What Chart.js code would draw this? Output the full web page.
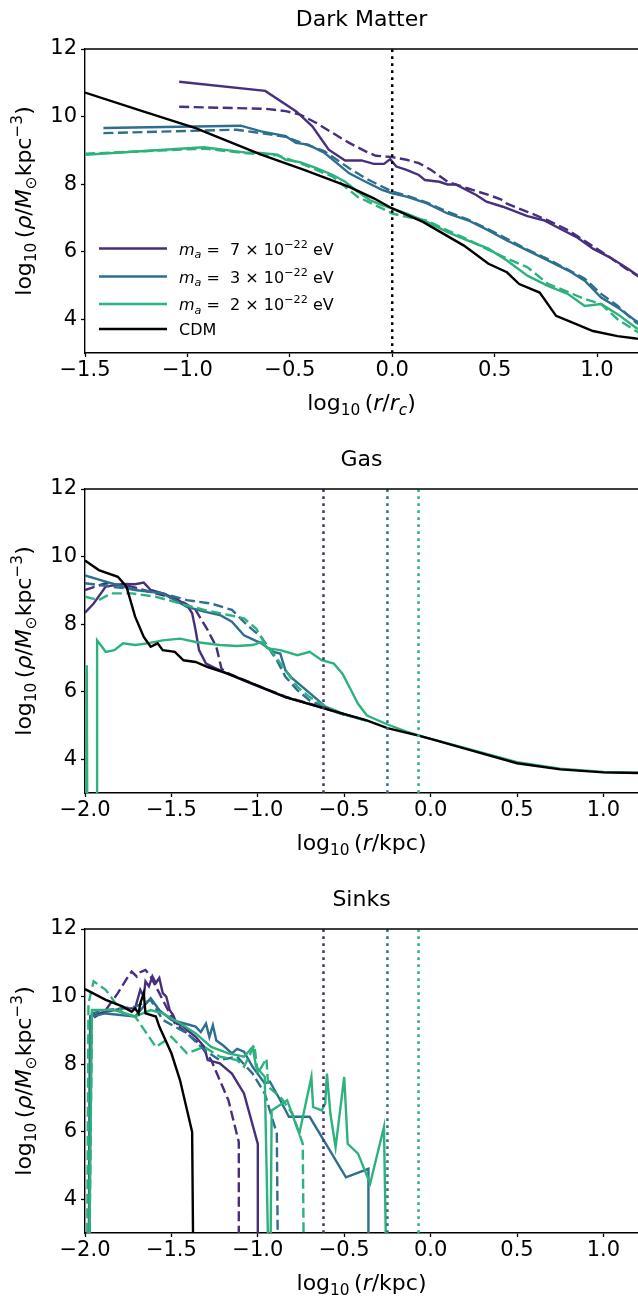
<!DOCTYPE html>
<html>
<head>
<meta charset="utf-8">
<script src="https://cdn.jsdelivr.net/npm/chart.js@4.4.1/dist/chart.umd.min.js"></script>
<style>
  html, body { margin: 0; padding: 0; background: #fff; overflow: hidden; }
  .panel { position: absolute; left: 0; width: 638px; height: 440px; }
</style>
</head>
<body>
<div class="panel" style="top:0"><canvas id="dm" width="638" height="440"></canvas></div>
<div class="panel" style="top:440px"><canvas id="gas" width="638" height="440"></canvas></div>
<div class="panel" style="top:880px"><canvas id="sinks" width="638" height="440"></canvas></div>
<script>
// axion masses (x 10^-22 eV) and their colours
const massLabels = ['7', '3', '2'];
const massColors = ['#482f7e', '#2e6e8e', '#2db27d'];

const yMin = 3, yMax = 12;
const yTicks = [4, 6, 8, 10, 12];
const dmTicks = [-1.5, -1.0, -0.5, 0.0, 0.5, 1.0];
const kpcTicks = [-2.0, -1.5, -1.0, -0.5, 0.0, 0.5, 1.0];

// core radii (dotted markers)
const dmCore = [0.0];
const gasCore = [-0.62, -0.25, -0.07];

// ---- dark matter, log10(r/rc) vs log10 rho ----
const dm7 = [[-1.04,11.03],[-0.62,10.76],[-0.47,10.16],[-0.39,9.71],[-0.31,9.02],[-0.23,8.70],[-0.15,8.70],[-0.09,8.60],[-0.04,8.60],[-0.01,8.74],[0.02,8.52],[0.07,8.42],[0.13,8.27],[0.16,8.12],[0.23,8.07],[0.27,7.99],[0.31,7.99],[0.41,7.68],[0.46,7.48],[0.54,7.33],[0.66,7.05],[0.74,6.93],[0.82,6.68],[0.90,6.43],[0.98,6.09],[1.06,5.84],[1.14,5.54],[1.22,5.20]];
const dm7d = [[-1.04,10.29],[-0.62,10.23],[-0.52,10.16],[-0.45,10.06],[-0.37,9.81],[-0.29,9.51],[-0.21,9.22],[-0.13,8.97],[-0.08,8.84],[0.0,8.80],[0.07,8.72],[0.13,8.62],[0.19,8.42],[0.27,8.07],[0.37,7.87],[0.47,7.68],[0.53,7.55],[0.56,7.42],[0.66,7.18],[0.76,6.93],[0.86,6.63],[0.96,6.24],[1.06,5.84],[1.14,5.50],[1.22,5.20]];
const dm3 = [[-1.41,9.66],[-0.74,9.73],[-0.64,9.56],[-0.52,9.42],[-0.47,9.22],[-0.41,9.17],[-0.33,8.92],[-0.27,8.62],[-0.21,8.32],[-0.13,8.07],[-0.05,7.83],[0.0,7.73],[0.07,7.63],[0.17,7.43],[0.27,7.13],[0.37,6.93],[0.47,6.63],[0.56,6.33],[0.66,6.04],[0.76,5.74],[0.86,5.44],[0.94,5.14],[1.02,4.64],[1.10,4.35],[1.19,3.95],[1.22,3.85]];
const dm3d = [[-1.41,9.51],[-0.76,9.61],[-0.64,9.51],[-0.52,9.40],[-0.41,9.15],[-0.33,8.97],[-0.21,8.47],[-0.13,8.17],[0.0,7.78],[0.07,7.66],[0.17,7.45],[0.27,7.18],[0.37,6.95],[0.47,6.66],[0.56,6.38],[0.66,6.06],[0.76,5.78],[0.86,5.46],[0.94,5.20],[1.02,4.75],[1.10,4.40],[1.19,3.90],[1.22,3.80]];
const dm2 = [[-1.5,8.87],[-0.92,9.09],[-0.72,8.94],[-0.64,8.92],[-0.56,8.87],[-0.52,8.72],[-0.45,8.65],[-0.37,8.47],[-0.29,8.27],[-0.23,8.07],[-0.17,7.78],[-0.11,7.53],[-0.05,7.38],[0.0,7.28],[0.07,7.13],[0.17,6.88],[0.27,6.58],[0.37,6.33],[0.47,6.09],[0.56,5.74],[0.66,5.29],[0.76,4.99],[0.86,4.74],[0.94,4.39],[1.02,4.45],[1.10,4.15],[1.19,3.75],[1.22,3.65]];
const dm2d = [[-1.5,8.90],[-0.92,9.05],[-0.72,8.92],[-0.56,8.85],[-0.45,8.62],[-0.29,8.22],[-0.17,7.63],[-0.05,7.28],[0.0,7.13],[0.07,7.03],[0.17,6.92],[0.27,6.63],[0.37,6.36],[0.47,6.05],[0.56,5.80],[0.66,5.54],[0.76,5.05],[0.86,4.80],[0.94,4.60],[1.02,4.45],[1.10,4.00],[1.19,3.65],[1.22,3.55]];
const dmCdm = [[-1.5,10.71],[-1.22,10.16],[-0.96,9.66],[-0.64,8.87],[-0.43,8.42],[-0.21,7.92],[-0.09,7.58],[0.0,7.28],[0.15,6.88],[0.35,6.18],[0.47,5.64],[0.56,5.39],[0.62,5.04],[0.72,4.79],[0.80,4.10],[0.86,3.95],[0.98,3.65],[1.10,3.50],[1.19,3.43],[1.22,3.42]];

// ---- gas, log10(r/kpc) ----
const gas7 = [[-2.0,8.34],[-1.95,8.61],[-1.88,9.11],[-1.78,9.19],[-1.71,9.18],[-1.66,9.23],[-1.62,9.01],[-1.55,8.91],[-1.48,8.76],[-1.41,8.56],[-1.38,8.32],[-1.36,7.82],[-1.34,7.23],[-1.30,6.83],[-1.24,6.68],[-1.17,6.52],[-1.03,6.22],[-0.84,5.84],[-0.61,5.50],[-0.50,5.32]];
const gas7d = [[-2.0,9.01],[-1.88,9.21],[-1.73,9.11],[-1.59,8.91],[-1.45,8.71],[-1.36,8.42],[-1.29,7.82],[-1.24,7.33],[-1.21,6.68],[-1.17,6.54],[-1.03,6.24],[-0.84,5.85],[-0.61,5.51],[-0.50,5.32]];
const gas3 = [[-2.0,9.44],[-1.88,9.26],[-1.71,9.01],[-1.55,8.91],[-1.41,8.51],[-1.31,8.37],[-1.22,8.27],[-1.15,8.07],[-1.08,7.67],[-0.98,7.43],[-0.91,7.18],[-0.87,7.13],[-0.84,6.63],[-0.80,6.39],[-0.73,6.09],[-0.65,5.74],[-0.61,5.56],[-0.50,5.33],[-0.37,5.14]];
const gas3d = [[-2.0,9.21],[-1.85,9.11],[-1.69,9.01],[-1.55,8.91],[-1.41,8.71],[-1.27,8.61],[-1.15,8.42],[-1.05,7.92],[-0.98,7.62],[-0.89,6.93],[-0.84,6.44],[-0.77,6.04],[-0.70,5.74],[-0.61,5.54],[-0.50,5.33],[-0.37,5.14]];
const gas2 = [[-1.995,0],[-1.99,6.78],[-1.985,0],[-1.93,0],[-1.93,7.52],[-1.88,7.18],[-1.83,7.23],[-1.78,7.43],[-1.71,7.38],[-1.64,7.43],[-1.55,7.52],[-1.45,7.57],[-1.36,7.47],[-1.22,7.38],[-1.12,7.35],[-1.03,7.38],[-0.98,7.47],[-0.94,7.28],[-0.87,7.23],[-0.77,7.08],[-0.70,7.18],[-0.63,6.93],[-0.56,6.83],[-0.51,6.53],[-0.47,6.14],[-0.42,5.64],[-0.37,5.30],[-0.26,5.05],[-0.14,4.82],[-0.02,4.63],[0.25,4.26],[0.50,3.91],[0.75,3.72],[1.0,3.62],[1.2,3.60]];
const gas2d = [[-2.0,8.81],[-1.92,8.71],[-1.85,8.91],[-1.73,8.91],[-1.59,8.81],[-1.45,8.61],[-1.31,8.42],[-1.17,8.27],[-1.08,8.17],[-1.01,7.87],[-0.96,7.43],[-0.91,7.13],[-0.84,6.63],[-0.77,6.14],[-0.70,5.84],[-0.61,5.57],[-0.50,5.33],[-0.37,5.14]];
const gasCdm = [[-2.0,9.88],[-1.92,9.60],[-1.81,9.40],[-1.76,9.11],[-1.71,8.22],[-1.66,7.62],[-1.62,7.33],[-1.58,7.43],[-1.55,7.23],[-1.48,7.18],[-1.43,6.93],[-1.36,6.88],[-1.29,6.73],[-1.17,6.53],[-1.03,6.24],[-0.84,5.84],[-0.61,5.50],[-0.37,5.15],[-0.25,4.92],[-0.07,4.70],[0.0,4.60],[0.25,4.24],[0.50,3.88],[0.75,3.70],[1.0,3.61],[1.2,3.59]];

// ---- sinks, log10(r/kpc) (0 = empty bin, falls off the axis) ----
const sink7 = [[-1.98,0],[-1.97,9.41],[-1.88,9.55],[-1.78,9.65],[-1.71,9.65],[-1.68,10.20],[-1.66,10.0],[-1.65,10.45],[-1.63,10.30],[-1.61,10.60],[-1.59,10.40],[-1.57,10.55],[-1.55,10.10],[-1.53,10.0],[-1.51,9.60],[-1.49,9.45],[-1.47,9.20],[-1.44,9.15],[-1.41,9.01],[-1.36,8.81],[-1.31,8.51],[-1.29,8.12],[-1.22,8.02],[-1.15,7.72],[-1.08,7.13],[-1.0,5.64],[-1.0,0]];
const sink7d = [[-1.98,0],[-1.97,9.31],[-1.88,9.60],[-1.81,10.10],[-1.75,10.60],[-1.73,10.74],[-1.70,10.59],[-1.68,10.72],[-1.65,10.79],[-1.62,10.59],[-1.57,10.10],[-1.52,9.60],[-1.48,9.21],[-1.41,8.91],[-1.34,8.61],[-1.27,8.12],[-1.17,6.93],[-1.11,5.69],[-1.11,0]];
const sink3 = [[-1.98,0],[-1.97,9.41],[-1.88,9.50],[-1.71,9.41],[-1.62,9.95],[-1.57,9.60],[-1.50,9.31],[-1.43,9.21],[-1.36,9.11],[-1.33,8.95],[-1.30,9.20],[-1.28,8.80],[-1.26,9.15],[-1.24,8.70],[-1.20,8.55],[-1.15,8.32],[-1.12,8.45],[-1.08,8.37],[-1.03,7.92],[-0.96,7.43],[-0.93,7.48],[-0.87,6.93],[-0.82,6.44],[-0.70,6.44],[-0.49,4.65],[-0.36,4.90],[-0.36,0]];
const sink3d = [[-1.98,0],[-1.96,9.50],[-1.88,9.60],[-1.71,9.70],[-1.62,9.90],[-1.55,9.31],[-1.48,9.11],[-1.41,8.91],[-1.31,8.42],[-1.22,8.12],[-1.12,8.22],[-1.03,7.72],[-0.96,7.13],[-0.89,5.94],[-0.88,0]];
const sink2 = [[-1.98,0],[-1.96,9.60],[-1.83,9.60],[-1.71,9.41],[-1.62,9.60],[-1.55,9.50],[-1.45,9.21],[-1.36,8.91],[-1.27,8.51],[-1.17,8.32],[-1.08,8.22],[-1.03,8.51],[-1.01,7.92],[-0.96,7.63],[-0.93,0],[-0.92,6.63],[-0.83,6.93],[-0.76,5.94],[-0.69,7.62],[-0.68,6.73],[-0.63,6.63],[-0.61,6.83],[-0.60,7.72],[-0.58,6.53],[-0.55,5.54],[-0.50,7.62],[-0.48,5.64],[-0.42,5.35],[-0.35,4.46],[-0.27,6.14],[-0.25,0]];
const sink2d = [[-1.99,0],[-1.98,9.80],[-1.95,10.45],[-1.88,10.20],[-1.78,9.50],[-1.71,9.41],[-1.59,8.51],[-1.50,8.81],[-1.41,8.32],[-1.31,8.51],[-1.22,8.22],[-1.12,8.12],[-1.08,7.92],[-1.02,8.56],[-1.0,7.72],[-0.95,8.17],[-0.94,7.33],[-0.87,7.03],[-0.80,6.54],[-0.74,5.64],[-0.73,0]];
const sinkCdm = [[-2.0,10.22],[-1.88,9.90],[-1.78,9.70],[-1.73,9.55],[-1.71,9.65],[-1.69,9.50],[-1.68,9.80],[-1.66,10.10],[-1.65,9.50],[-1.59,9.41],[-1.57,9.11],[-1.50,8.32],[-1.45,7.52],[-1.38,5.99],[-1.37,0]];

const FONT = 'DejaVu Sans';
Chart.defaults.font.family = FONT;
Chart.defaults.color = '#000';

// text runs with italics / sub / superscripts
const T = (t, o = {}) => Object.assign({ t }, o);
const yLabel = [T('log'), T('10', { sh: 'sub' }), T('\u2009('), T('\u03c1', { it: true }), T('/'), T('M', { it: true }), T('\u2299', { sh: 'sub' }), T('kpc'), T('\u22123', { sh: 'sup' }), T(')')];
const xLabelDm = [T('log'), T('10', { sh: 'sub' }), T('\u2009('), T('r', { it: true }), T('/'), T('r', { it: true }), T('c', { it: true, sh: 'sub' }), T(')')];
const xLabelKpc = [T('log'), T('10', { sh: 'sub' }), T('\u2009('), T('r', { it: true }), T('/kpc)')];

function partFont(p, size) {
  const s = p.sh ? size * 0.7 : size;
  return (p.it ? 'italic ' : '') + s + 'px "' + FONT + '"';
}

function drawRich(ctx, parts, x, y, size, align) {
  let w = 0;
  parts.forEach(p => { ctx.font = partFont(p, size); w += ctx.measureText(p.t).width; });
  let cx = align === 'left' ? x : x - w / 2;
  ctx.textBaseline = 'alphabetic';
  ctx.textAlign = 'left';
  parts.forEach(p => {
    ctx.font = partFont(p, size);
    const dy = p.sh === 'sub' ? size * 0.22 : p.sh === 'sup' ? -size * 0.42 : 0;
    ctx.fillText(p.t, cx, y + dy);
    cx += ctx.measureText(p.t).width;
  });
}

// frame top, title, axis labels and the legend
const decor = {
  id: 'decor',
  afterDraw(chart, args, opts) {
    const { ctx, chartArea: a } = chart;
    ctx.save();
    ctx.strokeStyle = '#000';
    ctx.lineWidth = 1.4;
    ctx.beginPath();
    ctx.moveTo(a.left - 0.7, a.top);
    ctx.lineTo(a.right, a.top);
    ctx.stroke();

    ctx.fillStyle = '#000';
    ctx.font = '22px "' + FONT + '"';
    ctx.textAlign = 'center';
    ctx.textBaseline = 'alphabetic';
    ctx.fillText(opts.title, (a.left + a.right) / 2, a.top - 23);

    drawRich(ctx, opts.xlabel, (a.left + a.right) / 2, a.bottom + 57, 22, 'center');

    ctx.save();
    ctx.translate(31, (a.top + a.bottom) / 2);
    ctx.rotate(-Math.PI / 2);
    drawRich(ctx, yLabel, 0, 0, 22, 'center');
    ctx.restore();

    if (opts.legend) {
      const rows = [248.5, 276.5, 304, 329];
      const entries = massLabels.map((m, i) => ({
        color: massColors[i],
        text: [T('m', { it: true }), T('a', { it: true, sh: 'sub' }), T(' =  ' + m + ' \u00d7 10'), T('\u221222', { sh: 'sup' }), T(' eV')]
      }));
      entries.push({ color: '#000', text: [T('CDM')] });
      entries.forEach((e, i) => {
        ctx.strokeStyle = e.color;
        ctx.lineWidth = 2.5;
        ctx.beginPath();
        ctx.moveTo(99, rows[i]);
        ctx.lineTo(167, rows[i]);
        ctx.stroke();
        drawRich(ctx, e.text, 179, rows[i] + 6, 16, 'left');
      });
    }
    ctx.restore();
  }
};

const pts = arr => arr.map(([x, y]) => ({ x, y }));

function line(pairs, color, dashed) {
  return {
    data: pts(pairs),
    borderColor: color,
    borderWidth: 2.4,
    borderDash: dashed ? [10, 4.5] : [],
    pointRadius: 0,
    tension: 0,
    fill: false
  };
}

function marker(x, color) {
  return {
    data: [{ x, y: yMin }, { x, y: yMax }],
    borderColor: color,
    borderWidth: 2.5,
    borderDash: [2.8, 4.2],
    pointRadius: 0,
    fill: false
  };
}

function panel(id, sets, xMin, xTicks, title, xlabel, legend) {
  sets.forEach((s, i) => { s.order = -i; });
  const fmtX = v => (Math.abs(v) < 1e-9 ? '0.0' : v.toFixed(1).replace('-', '\u2212'));
  return new Chart(document.getElementById(id), {
    type: 'line',
    data: { datasets: sets },
    plugins: [decor],
    options: {
      responsive: false,
      animation: false,
      events: [],
      layout: { padding: { top: 49, right: 0, left: 0, bottom: 0 } },
      plugins: {
        legend: { display: false },
        tooltip: { enabled: false },
        decor: { title, xlabel, legend }
      },
      scales: {
        x: {
          type: 'linear',
          min: xMin,
          max: 1.2,
          afterBuildTicks: s => { s.ticks = xTicks.map(value => ({ value })); },
          afterFit: s => { s.height = 87; },
          ticks: { callback: fmtX, font: { size: 21 }, color: '#000', padding: 1, maxRotation: 0, autoSkip: false },
          grid: { drawOnChartArea: false, drawTicks: true, tickLength: 4, tickWidth: 1.3, tickColor: '#000' },
          border: { display: true, color: '#000', width: 1.4 }
        },
        y: {
          min: yMin,
          max: yMax,
          afterBuildTicks: s => { s.ticks = yTicks.map(value => ({ value })); },
          afterFit: s => { s.width = 85; },
          ticks: { callback: v => String(v), font: { size: 21 }, color: '#000', padding: 4 },
          grid: { drawOnChartArea: false, drawTicks: true, tickLength: 4, tickWidth: 1.3, tickColor: '#000' },
          border: { display: true, color: '#000', width: 1.4 }
        }
      }
    }
  });
}

const [c7, c3, c2] = massColors;

panel('dm', [
  line(dm7, c7), line(dm7d, c7, true),
  line(dm3, c3), line(dm3d, c3, true),
  line(dm2, c2), line(dm2d, c2, true),
  line(dmCdm, '#000'),
  ...dmCore.map(x => marker(x, '#000'))
], -1.5, dmTicks, 'Dark Matter', xLabelDm, true);

panel('gas', [
  line(gas7, c7), line(gas7d, c7, true),
  line(gas3, c3), line(gas3d, c3, true),
  line(gas2, c2), line(gas2d, c2, true),
  line(gasCdm, '#000'),
  ...gasCore.map((x, i) => marker(x, massColors[i]))
], -2.0, kpcTicks, 'Gas', xLabelKpc, false);

panel('sinks', [
  line(sink7, c7), line(sink7d, c7, true),
  line(sink3, c3), line(sink3d, c3, true),
  line(sink2, c2), line(sink2d, c2, true),
  line(sinkCdm, '#000'),
  ...gasCore.map((x, i) => marker(x, massColors[i]))
], -2.0, kpcTicks, 'Sinks', xLabelKpc, false);
</script>
</body>
</html>
